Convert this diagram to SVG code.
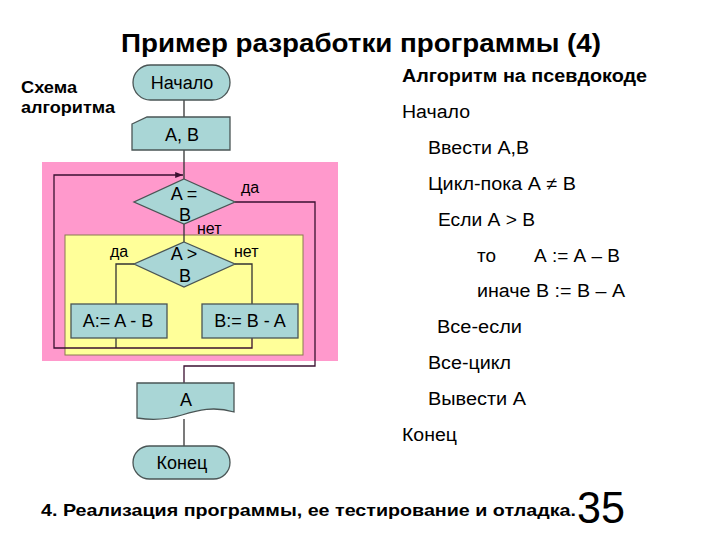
<svg xmlns="http://www.w3.org/2000/svg" width="720" height="540" viewBox="0 0 720 540">
<defs>
<style>
.t{font-family:"Liberation Sans",Arial,sans-serif;fill:#000}
.b{font-weight:bold}
.node{fill:#A9D6D6;stroke:#4A5555;stroke-width:1.3}
.ln{fill:none;stroke:#333;stroke-width:1.3}
.lp{fill:none;stroke:#3A1030;stroke-width:1.3}
.fc{font-size:18px;text-anchor:middle}
.lb{font-size:16px}
.ps{font-size:18px}
</style>
<marker id="arr" viewBox="0 0 10 10" refX="10" refY="5" markerWidth="6" markerHeight="6" orient="auto">
<path d="M0,1 L10,5 L0,9 Z" fill="#3A1030"/>
</marker>
</defs>
<rect width="720" height="540" fill="#fff"/>

<text class="t b" x="361" y="52" font-size="26" text-anchor="middle" textLength="480" lengthAdjust="spacingAndGlyphs">Пример разработки программы (4)</text>

<text class="t b" x="21" y="93" font-size="16" textLength="56" lengthAdjust="spacingAndGlyphs">Схема</text>
<text class="t b" x="21" y="113" font-size="16" textLength="94" lengthAdjust="spacingAndGlyphs">алгоритма</text>

<g id="loop-body">
<rect x="42" y="162" width="296" height="199" fill="#FF99CC"/>
<rect x="65" y="235" width="238" height="120" fill="#FFFF99" stroke="#8A7A50" stroke-width="1"/>
</g>

<g id="connectors">
<path class="ln" d="M184,100 V117"/>
<path class="ln" d="M184,150 V179"/>
<path class="ln" d="M184,224 V242"/>
<path class="ln" d="M134,264 H116 V304"/>
<path class="ln" d="M235,264 H252 V304"/>
<path class="ln" d="M116,338 V348"/>
<path class="lp" d="M252,338 V348 H54 V175 H183" marker-end="url(#arr)"/>
<path class="lp" d="M235,202 H315 V366 H184 V383"/>
<path class="ln" d="M184,419 V446"/>
</g>

<g id="start">
<rect class="node" x="133" y="65" width="97" height="35" rx="17.5"/>
<text class="t fc" x="182" y="89">Начало</text>
</g>

<g id="input">
<path class="node" d="M132,124 L147,117 H230 V150 H132 Z"/>
<text class="t fc" x="182" y="141">A, B</text>
</g>

<g id="cond1">
<path class="node" d="M184,179 L235,202 L184,224 L134,202 Z"/>
<text class="t fc" x="184" y="200">A =</text>
<text class="t fc" x="185" y="221">B</text>
<text class="t lb" x="241" y="193">да</text>
<text class="t lb" x="197" y="234">нет</text>
</g>

<g id="cond2">
<path class="node" d="M184,242 L235,264 L184,287 L134,264 Z"/>
<text class="t fc" x="184" y="260">A &gt;</text>
<text class="t fc" x="185" y="282">B</text>
<text class="t lb" x="110" y="257">да</text>
<text class="t lb" x="234" y="257">нет</text>
</g>

<g id="assign1">
<rect class="node" x="71" y="304" width="96" height="34"/>
<text class="t fc" x="118" y="327">A:= A - B</text>
</g>

<g id="assign2">
<rect class="node" x="202" y="304" width="96" height="34"/>
<text class="t fc" x="250" y="327">B:= B - A</text>
</g>

<g id="output">
<path class="node" d="M137,383 H234 V412 C214,406 198,410 182,415 C166,420 150,420 137,418 Z"/>
<text class="t fc" x="186" y="406">A</text>
</g>

<g id="end">
<rect class="node" x="133" y="446" width="97" height="33" rx="16.5"/>
<text class="t fc" x="182" y="469">Конец</text>
</g>

<g id="pseudocode">
<text class="t b ps" x="402" y="82" textLength="245" lengthAdjust="spacingAndGlyphs">Алгоритм на псевдокоде</text>
<text class="t ps" x="402" y="118" textLength="68" lengthAdjust="spacingAndGlyphs">Начало</text>
<text class="t ps" x="428" y="154" textLength="101" lengthAdjust="spacingAndGlyphs">Ввести А,В</text>
<text class="t ps" x="428" y="190" textLength="148" lengthAdjust="spacingAndGlyphs">Цикл-пока А ≠ В</text>
<text class="t ps" x="438" y="226" textLength="97" lengthAdjust="spacingAndGlyphs">Если А &gt; В</text>
<text class="t ps" x="477" y="262" textLength="19" lengthAdjust="spacingAndGlyphs">то</text>
<text class="t ps" x="534" y="262" textLength="86" lengthAdjust="spacingAndGlyphs">А := А – В</text>
<text class="t ps" x="477" y="297" textLength="148" lengthAdjust="spacingAndGlyphs">иначе В := В – А</text>
<text class="t ps" x="437" y="333" textLength="85" lengthAdjust="spacingAndGlyphs">Все-если</text>
<text class="t ps" x="428" y="369" textLength="83" lengthAdjust="spacingAndGlyphs">Все-цикл</text>
<text class="t ps" x="428" y="405" textLength="98" lengthAdjust="spacingAndGlyphs">Вывести А</text>
<text class="t ps" x="402" y="441" textLength="55" lengthAdjust="spacingAndGlyphs">Конец</text>
</g>

<text class="t b" x="41" y="516" font-size="17" textLength="535" lengthAdjust="spacingAndGlyphs">4. Реализация программы, ее тестирование и отладка.</text>
<text class="t" x="577" y="523" font-size="44" textLength="48" lengthAdjust="spacingAndGlyphs">35</text>
</svg>
